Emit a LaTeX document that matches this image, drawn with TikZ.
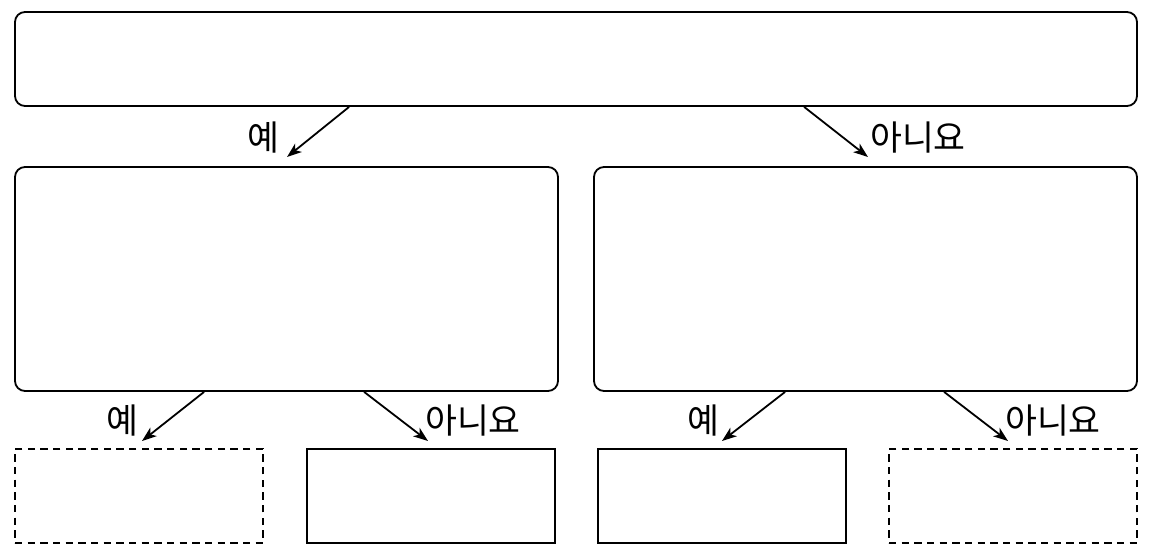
\documentclass[tikz,border=0pt]{standalone}
\usepackage{fontspec}
\newfontfamily\kr{Noto Sans CJK KR}
\usetikzlibrary{arrows.meta}
\begin{document}
\begin{tikzpicture}[x=0.75pt,y=-0.75pt,
  rbox/.style={draw,line width=1.35pt,rounded corners=7.5pt,inner sep=0pt},
  sbox/.style={draw,line width=1.35pt,inner sep=0pt,minimum width=186pt,minimum height=70.5pt},
  dbox/.style={sbox,dash pattern=on 5.5pt off 4pt},
  conn/.style={line width=1.35pt,-{Stealth[length=11pt,width=8pt,inset=3pt]}},
  lbl/.style={font=\kr\fontsize{26}{28}\selectfont,inner sep=0pt}]
\useasboundingbox (0,0) rectangle (1153,557);
\node[rbox,minimum width=841.5pt,minimum height=70.5pt] (top) at (576,59) {};
\node[rbox,minimum width=407.25pt,minimum height=168pt] (ml) at (286.5,279) {};
\node[rbox,minimum width=407.25pt,minimum height=168pt] (mr) at (865.5,279) {};
\node[dbox] (b1) at (139,496) {};
\node[sbox] (b2) at (431,496) {};
\node[sbox] (b3) at (722,496) {};
\node[dbox] (b4) at (1013,496) {};
\coordinate (e1) at (287,157);
\coordinate (e2) at (868,157);
\coordinate (e3) at (142,441);
\coordinate (e4) at (428,441);
\coordinate (e5) at (722,441);
\coordinate (e6) at (1008,441);
\draw[conn] ([xshift=251.25pt]top.south west) -- (e1);
\draw[conn] ([xshift=592.5pt]top.south west) -- (e2);
\draw[conn] ([xshift=142.5pt]ml.south west) -- (e3);
\draw[conn] ([xshift=262.5pt]ml.south west) -- (e4);
\draw[conn] ([xshift=144pt]mr.south west) -- (e5);
\draw[conn] ([xshift=263.25pt]mr.south west) -- (e6);
\node[lbl] (l1) at (263,138) {예};
\node[lbl] (l2) at (918,138) {아니요};
\node[lbl] (l3) at (122,421) {예};
\node[lbl] (l4) at (473,421) {아니요};
\node[lbl] (l5) at (703,421) {예};
\node[lbl] (l6) at (1053,421) {아니요};
\end{tikzpicture}
\end{document}
